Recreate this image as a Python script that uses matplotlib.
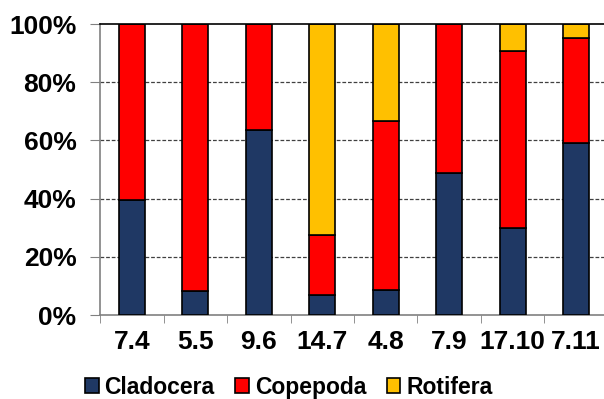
import numpy as np
import matplotlib
matplotlib.use("Agg")
import matplotlib.pyplot as plt

# sampling dates and share (%) of each zooplankton group
dates = ["7.4", "5.5", "9.6", "14.7", "4.8", "7.9", "17.10", "7.11"]
cladocera = [39.5, 8.2, 63.6, 6.9, 8.6, 48.9, 29.8, 59.0]
copepoda = [60.5, 91.8, 36.4, 20.6, 58.1, 51.1, 60.9, 36.1]
rotifera = [0.0, 0.0, 0.0, 72.5, 33.3, 0.0, 9.3, 4.9]

colors = ["#1F3864", "#FF0000", "#FFC000"]
names = ["Cladocera", "Copepoda", "Rotifera"]

plt.rcParams["font.family"] = ["Liberation Sans", "DejaVu Sans"]
plt.rcParams["font.weight"] = "bold"

fig = plt.figure(figsize=(6.04, 3.99), dpi=100)
ax = fig.add_axes([0.1656, 0.2105, 0.841, 0.7293])

x = np.arange(len(dates))
bottom = np.zeros(len(dates))
for vals, c, n in zip([cladocera, copepoda, rotifera], colors, names):
    ax.bar(x, vals, width=0.41, bottom=bottom, color=c, edgecolor="black",
           linewidth=1.2, label=n, zorder=3)
    bottom += np.array(vals)

ax.set_xlim(-0.5, len(dates) - 0.5)
ax.set_ylim(0, 100)
ax.set_yticks([0, 20, 40, 60, 80, 100])
ax.set_yticklabels(["0%", "20%", "40%", "60%", "80%", "100%"], fontsize=19, fontweight="bold")
ax.set_xticks(x)
ax.set_xticklabels(dates, fontsize=19, fontweight="bold")
ax.set_xticks(np.arange(-0.5, len(dates)), minor=True)
ax.tick_params(axis="x", which="major", length=0, pad=11)
ax.tick_params(axis="x", which="minor", length=6, color="#808080", direction="out")
ax.tick_params(axis="y", length=7, color="#808080", direction="out", pad=10)

for yv in [20, 40, 60, 80]:
    ax.axhline(yv, color="#404040", linestyle=(0, (3, 1.5)), linewidth=0.9, zorder=1)
ax.axhline(100, color="black", linewidth=1.2, zorder=4, clip_on=False)

for s in ["top", "right"]:
    ax.spines[s].set_visible(False)
for s in ["left", "bottom"]:
    ax.spines[s].set_color("#808080")
    ax.spines[s].set_linewidth(1.2)

fig.legend(loc="center", bbox_to_anchor=(0.478, 0.03), ncol=3, frameon=False,
           handlelength=0.6, handleheight=0.6, handletextpad=0.25,
           columnspacing=0.9, prop={"weight": "bold", "size": 16.5})

fig.savefig("out.png", dpi=100)
